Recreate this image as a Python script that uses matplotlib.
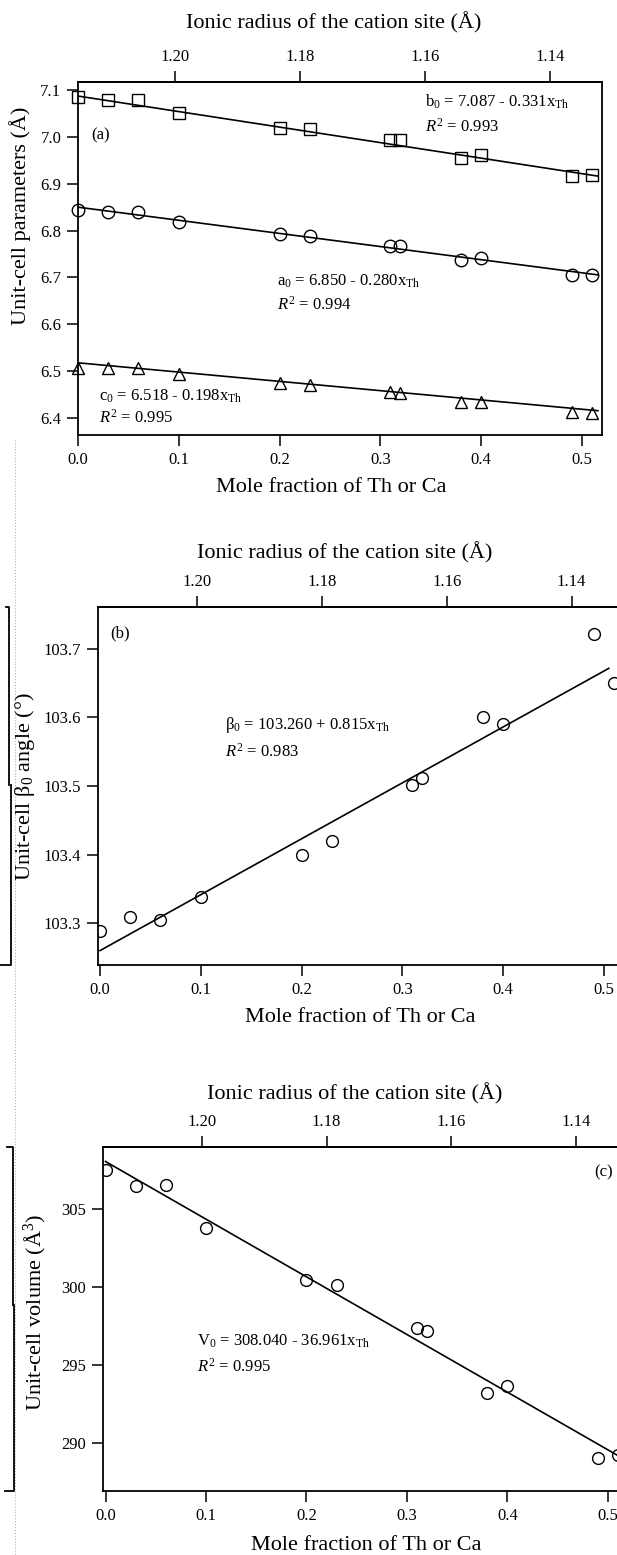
import matplotlib
matplotlib.use("Agg")
import matplotlib.pyplot as plt
from matplotlib.lines import Line2D
import numpy as np

plt.rcParams['font.family'] = ['Liberation Serif', 'DejaVu Serif']
plt.rcParams['mathtext.fontset'] = 'custom'
plt.rcParams['mathtext.rm'] = 'Liberation Serif'
plt.rcParams['mathtext.it'] = 'Liberation Serif:italic'
plt.rcParams['mathtext.bf'] = 'Liberation Serif:bold'

# ---------------- data ----------------
x_frac = [0.00, 0.03, 0.06, 0.10, 0.20, 0.23, 0.31, 0.32, 0.38, 0.40, 0.49, 0.51]
b_param = [7.086, 7.079, 7.079, 7.050, 7.018, 7.016, 6.993, 6.993, 6.954, 6.961, 6.917, 6.919]
a_param = [6.844, 6.839, 6.839, 6.818, 6.793, 6.789, 6.768, 6.768, 6.737, 6.741, 6.706, 6.706]
c_param = [6.507, 6.506, 6.507, 6.495, 6.474, 6.471, 6.456, 6.454, 6.434, 6.434, 6.413, 6.411]
beta_angle = [103.289, 103.309, 103.305, 103.338, 103.399, 103.420,
              103.501, 103.511, 103.601, 103.591, 103.722, 103.650]
cell_volume = [307.52, 306.50, 306.56, 303.78, 300.47, 300.10,
               297.37, 297.16, 293.20, 293.68, 289.04, 289.20]

# linear fits (intercept, slope) as printed on the chart
fit_b = (7.087, -0.331)
fit_a = (6.850, -0.280)
fit_c = (6.518, -0.198)
fit_beta = (103.260, 0.815)
fit_vol = (308.040, -36.961)

# ionic radius of cation site vs mole fraction: r = R0 - K*x
R0, K = 1.2155, 0.1613
radius_ticks = [1.20, 1.18, 1.16, 1.14]

frac_ticks = [0.0, 0.1, 0.2, 0.3, 0.4, 0.5]
yticks_a = [6.4, 6.5, 6.6, 6.7, 6.8, 6.9, 7.0, 7.1]
yticks_b = [103.3, 103.4, 103.5, 103.6, 103.7]
yticks_c = [290, 295, 300, 305]

# ---------------- figure ----------------
W, H = 617, 1555
fig = plt.figure(figsize=(W / 100, H / 100), dpi=100)


def add_ax(l, r, t, b):
    return fig.add_axes([l / W, 1 - b / H, (r - l) / W, (b - t) / H])


def fwd(x):
    return R0 - K * np.asarray(x)


def inv(r):
    return (R0 - np.asarray(r)) / K


TICK_FS = 12
LAB_FS = 16
ANN_FS = 12


def style(ax, xlim, ylim, yticks, yfmt):
    ax.set_xlim(*xlim)
    ax.set_ylim(*ylim)
    ax.set_xticks(frac_ticks)
    ax.set_xticklabels([f"{v:.1f}" for v in frac_ticks])
    ax.set_yticks(yticks)
    ax.set_yticklabels([yfmt.format(v) for v in yticks])
    ax.tick_params(direction='out', length=8, width=1.1, labelsize=TICK_FS, pad=4)
    for s in ax.spines.values():
        s.set_linewidth(1.3)
    sec = ax.secondary_xaxis('top', functions=(fwd, inv))
    sec.set_xticks(radius_ticks)
    sec.set_xticklabels([f"{v:.2f}" for v in radius_ticks])
    sec.tick_params(direction='out', length=8, width=1.1, labelsize=TICK_FS, pad=4)
    sec.spines['top'].set_linewidth(1.3)
    return sec


def px_label(fig_x, fig_y, text, rot=0):
    fig.text(fig_x / W, 1 - fig_y / H, text, fontsize=LAB_FS, ha='center',
             va='center', rotation=rot)


mk = dict(color='black', mfc='none', mec='black', mew=1.0, ls='none')

# ---- panel (a) ----
axA = add_ax(78, 602, 82, 435)
secA = style(axA, (0.0, 0.52), (6.364, 7.117), yticks_a, "{:.1f}")
xf = np.array([0.0, 0.516])
for (i0, sl) in (fit_b, fit_a, fit_c):
    axA.plot(xf, i0 + sl * xf, color='black', lw=1.2)
axA.plot(x_frac, b_param, marker='s', ms=9, **mk, clip_on=False)
axA.plot(x_frac, a_param, marker='o', ms=9, **mk, clip_on=False)
axA.plot(x_frac, c_param, marker='^', ms=9, **mk, clip_on=False)
axA.text(0.344, 7.074, r"b$_0$ = 7.087 - 0.331x$_{\mathrm{Th}}$", fontsize=ANN_FS, va='center')
axA.text(0.344, 7.021, r"$R^2$ = 0.993", fontsize=ANN_FS, va='center')
axA.text(0.197, 6.691, r"a$_0$ = 6.850 - 0.280x$_{\mathrm{Th}}$", fontsize=ANN_FS, va='center')
axA.text(0.197, 6.641, r"$R^2$ = 0.994", fontsize=ANN_FS, va='center')
axA.text(0.021, 6.446, r"c$_0$ = 6.518 - 0.198x$_{\mathrm{Th}}$", fontsize=ANN_FS, va='center')
axA.text(0.021, 6.400, r"$R^2$ = 0.995", fontsize=ANN_FS, va='center')
axA.text(0.013, 7.004, "(a)", fontsize=ANN_FS, va='center')
px_label(334, 23, "Ionic radius of the cation site (Å)")
px_label(331, 487, "Mole fraction of Th or Ca")
px_label(20, 216, "Unit-cell parameters (Å)", rot=90)

# ---- panel (b) ----
axB = add_ax(98, 634, 607, 965)
secB = style(axB, (-0.002, 0.53), (103.239, 103.761), yticks_b, "{:.1f}")
axB.spines['right'].set_visible(False)
xf = np.array([0.0, 0.505])
axB.plot(xf, fit_beta[0] + fit_beta[1] * xf, color='black', lw=1.2)
axB.plot(x_frac, beta_angle, marker='o', ms=8.5, **mk)
axB.text(0.124, 103.589, r"β$_0$ = 103.260 + 0.815x$_{\mathrm{Th}}$", fontsize=ANN_FS, va='center')
axB.text(0.124, 103.550, r"$R^2$ = 0.983", fontsize=ANN_FS, va='center')
axB.text(0.010, 103.722, "(b)", fontsize=ANN_FS, va='center')
px_label(345, 553, "Ionic radius of the cation site (Å)")
px_label(360, 1017, "Mole fraction of Th or Ca")
px_label(25, 787, r"Unit-cell β$_0$ angle (°)", rot=90)

# ---- panel (c) ----
axC = add_ax(103, 638, 1147, 1491)
secC = style(axC, (-0.0025, 0.53), (286.92, 308.97), yticks_c, "{:.0f}")
axC.spines['right'].set_visible(False)
xf = np.array([0.0, 0.53])
axC.plot(xf, fit_vol[0] + fit_vol[1] * xf, color='black', lw=1.2)
axC.plot(x_frac, cell_volume, marker='o', ms=8.5, **mk)
axC.text(0.091, 296.49, r"V$_0$ = 308.040 - 36.961x$_{\mathrm{Th}}$", fontsize=ANN_FS, va='center')
axC.text(0.091, 294.89, r"$R^2$ = 0.995", fontsize=ANN_FS, va='center')
axC.text(0.486, 307.37, "(c)", fontsize=ANN_FS, va='center')
px_label(355, 1094, "Ionic radius of the cation site (Å)")
px_label(366, 1545, "Mole fraction of Th or Ca")
px_label(35, 1312, r"Unit-cell volume (Å$^3$)", rot=90)


# ---- scan artefacts at the left margin (brackets and dotted page edge) ----
def px_line(xs, ys, **kw):
    fig.add_artist(Line2D([x / W for x in xs], [1 - y / H for y in ys],
                          transform=fig.transFigure, **kw))


px_line([15, 15], [440, 1555], color='#b0b0b0', lw=0.8, ls=':')
px_line([6, 9, 9], [607, 607, 785], color='black', lw=1.3)
px_line([11, 11, 0], [785, 965, 965], color='black', lw=1.3)
px_line([7, 13, 13], [1147, 1147, 1305], color='black', lw=1.3)
px_line([14, 14, 5], [1305, 1491, 1491], color='black', lw=1.3)

fig.savefig("out.png", dpi=100)
